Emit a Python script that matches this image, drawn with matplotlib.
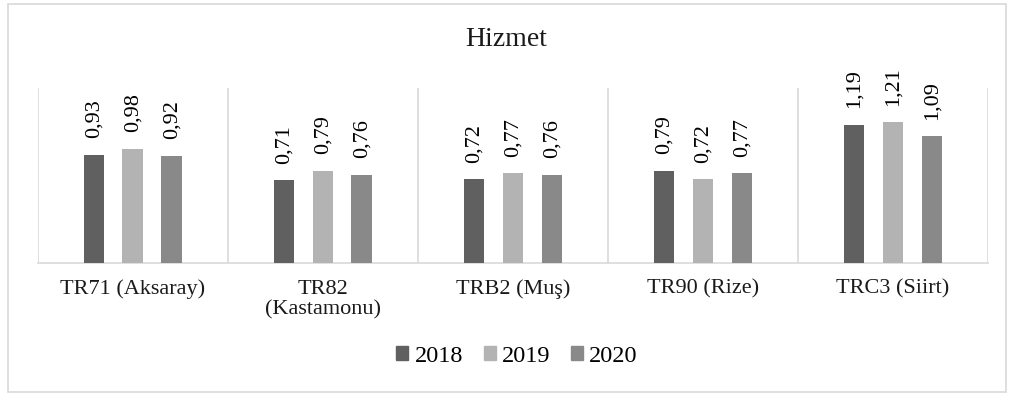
import matplotlib
matplotlib.use("Agg")
import matplotlib.pyplot as plt
from matplotlib.patches import Rectangle
import numpy as np

# Data
categories = ["TR71 (Aksaray)", "TR82\n(Kastamonu)", "TRB2 (Muş)", "TR90 (Rize)", "TRC3 (Siirt)"]
years = ["2018", "2019", "2020"]
values_2018 = [0.93, 0.71, 0.72, 0.79, 1.19]
values_2019 = [0.98, 0.79, 0.77, 0.72, 1.21]
values_2020 = [0.92, 0.76, 0.76, 0.77, 1.09]
series = [values_2018, values_2019, values_2020]
colors = ["#606060", "#b3b3b3", "#898989"]

plt.rcParams["font.family"] = ["Liberation Serif", "DejaVu Serif"]

W, H = 1009, 394
fig = plt.figure(figsize=(W / 100, H / 100), dpi=100)
fig.patch.set_facecolor("white")

# Outer chart border
fig.add_artist(Rectangle((8 / W, 1 - 392 / H), (1006 - 8) / W, (392 - 4) / H,
                         transform=fig.transFigure, fill=False,
                         edgecolor="#d9d9d9", linewidth=1.2))

# Plot area
x0, x1 = 37.7, 988
y_base, y_top = 263, 88
ax = fig.add_axes([x0 / W, 1 - y_base / H, (x1 - x0) / W, (y_base - y_top) / H])
ax.set_xlim(-0.5, len(categories) - 0.5)
ax.set_ylim(0, 1.505)

x = np.arange(len(categories))
bar_w = 0.108
offsets = [-0.205, 0.0, 0.205]

for vals, col, off, yr in zip(series, colors, offsets, years):
    bars = ax.bar(x + off, vals, width=bar_w, color=col, label=yr, zorder=3)
    for b, v in zip(bars, vals):
        ax.annotate(f"{v:.2f}".replace(".", ","),
                    xy=(b.get_x() + b.get_width() / 2, v),
                    xytext=(0, 12), textcoords="offset points",
                    rotation=90, ha="center", va="bottom",
                    fontsize=16, color="#000000")

# Category separators
for sep in np.arange(-0.5, len(categories), 1.0):
    ax.axvline(sep, color="#d9d9d9", linewidth=1.2, zorder=1)

for s in ["top", "left", "right"]:
    ax.spines[s].set_visible(False)
ax.spines["bottom"].set_color("#d9d9d9")
ax.spines["bottom"].set_linewidth(1.2)
ax.set_yticks([])
ax.set_xticks(x)
ax.set_xticklabels(categories, fontsize=16, color="#1a1a1a", linespacing=1.1)
ax.tick_params(axis="x", length=0, pad=12)
for lbl in ax.get_xticklabels():
    lbl.set_verticalalignment("top")

fig.text(506 / W, 1 - 40 / H, "Hizmet", ha="center", va="center",
         fontsize=20, color="#1a1a1a")

handles = [Rectangle((0, 0), 1, 1, color=c) for c in colors]
fig.legend(handles, years, loc="center", bbox_to_anchor=(517 / W, 1 - 356 / H),
           ncol=3, frameon=False, fontsize=17.5, handlelength=0.5, handleheight=0.5,
           handletextpad=0.25, columnspacing=0.85, borderpad=0)

fig.savefig("out.png", dpi=100, facecolor="white")
